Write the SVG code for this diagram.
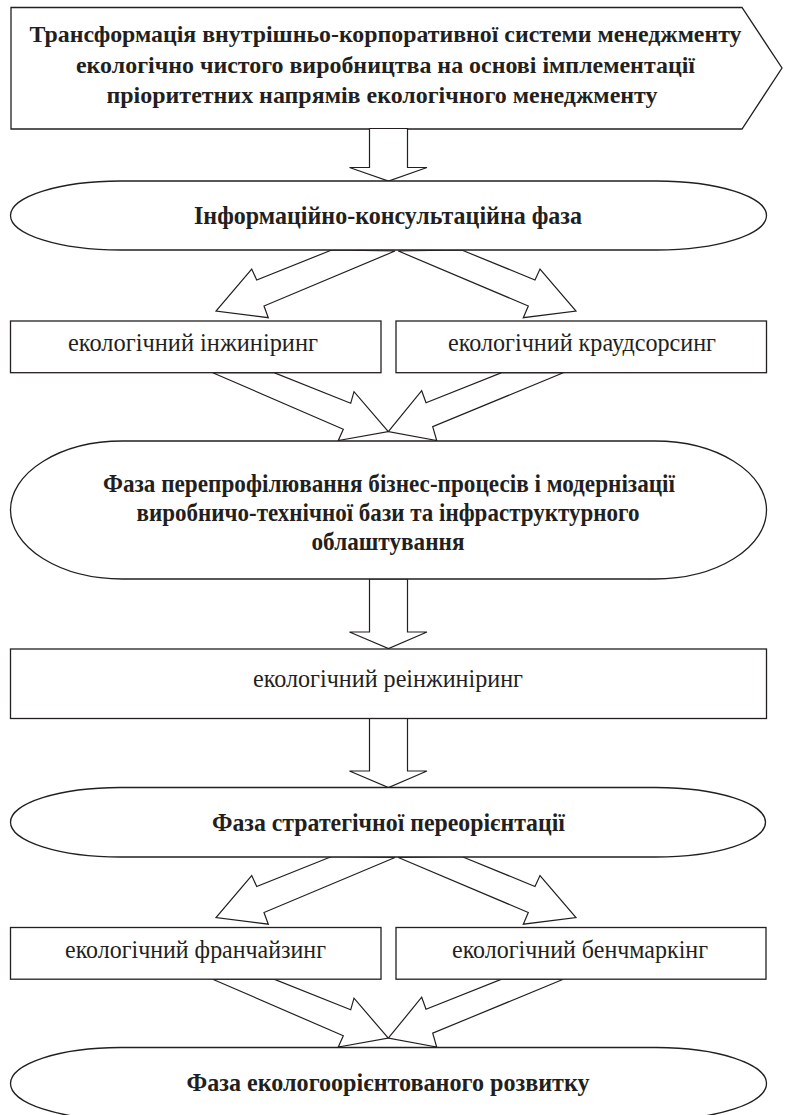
<svg xmlns="http://www.w3.org/2000/svg" width="785" height="1115" viewBox="0 0 785 1115">
<style>
.shape{fill:#fff;stroke:#231f20;stroke-width:1.3}
.arr{fill:#fff;stroke:#231f20;stroke-width:1.2;stroke-linejoin:miter}
.b{font-family:"Liberation Serif","Times New Roman",serif;font-weight:bold;font-size:25px;fill:#231f20;text-anchor:middle}
.t{font-size:24px}
.r{font-family:"Liberation Serif","Times New Roman",serif;font-size:25px;fill:#231f20;text-anchor:middle}
</style>
<rect width="785" height="1115" fill="#fff"/>
<g id="n-top">
<polygon class="shape" points="11,7.5 742,7.5 782,68 742,129 11,129"/>
<text class="b t" x="385.5" y="41.5" textLength="712" lengthAdjust="spacingAndGlyphs">Трансформація внутрішньо-корпоративної системи менеджменту</text>
<text class="b t" x="385.5" y="72.5" textLength="619" lengthAdjust="spacingAndGlyphs">екологічно чистого виробництва на основі імплементації</text>
<text class="b t" x="382" y="103" textLength="551" lengthAdjust="spacingAndGlyphs">пріоритетних напрямів екологічного менеджменту</text>
</g>
<g id="connectors">
<polygon class="arr" points="369.5,128.5 407.5,128.5 407.5,167.5 427,167.5 388.5,181 349.5,167.5 369.5,167.5"/>
<polygon class="arr" points="331.7,250 256.7,280 251.7,269 216,311 268.3,317.7 264,306 395,251"/>
<polygon class="arr" points="461.7,250 535,280 540,269 576,311 523.3,317.7 528.3,306 398.3,251"/>
<polygon class="arr" points="212.7,372.7 343.3,429.3 338.3,440.5 388.3,431.7 354,391.7 350.7,403.3 274,372.7"/>
<polygon class="arr" points="563.3,372.7 432.7,426.7 436.7,440.5 388.3,431.7 421.7,390.7 426,402.7 501.7,372.7"/>
<polygon class="arr" points="369.5,579 407.5,579 407.5,632 427,632 388.5,648.5 349.5,632 369.5,632"/>
<polygon class="arr" points="369.5,718.5 407.5,718.5 407.5,771 427,771 388.5,787.5 349.5,771 369.5,771"/>
<g transform="translate(0,606.5)">
<polygon class="arr" points="331.7,250 256.7,280 251.7,269 216,311 268.3,317.7 264,306 395,251"/>
<polygon class="arr" points="461.7,250 535,280 540,269 576,311 523.3,317.7 528.3,306 398.3,251"/>
<polygon class="arr" points="212.7,372.7 343.3,429.3 338.3,440.5 388.3,431.7 354,391.7 350.7,403.3 274,372.7"/>
<polygon class="arr" points="563.3,372.7 432.7,426.7 436.7,440.5 388.3,431.7 421.7,390.7 426,402.7 501.7,372.7"/>
</g>
</g>
<g id="n-phase1">
<rect class="shape" x="10.5" y="181" width="756" height="69" rx="110" ry="34.5"/>
<text class="b" x="388" y="224" textLength="388" lengthAdjust="spacingAndGlyphs">Інформаційно-консультаційна фаза</text>
</g>
<g id="n-engineering">
<rect class="shape" x="10.5" y="321" width="370.5" height="51.7"/>
<text class="r" x="193" y="351" textLength="250" lengthAdjust="spacingAndGlyphs">екологічний інжиніринг</text>
</g>
<g id="n-crowdsourcing">
<rect class="shape" x="396" y="321" width="370.5" height="51.7"/>
<text class="r" x="582" y="351" textLength="268" lengthAdjust="spacingAndGlyphs">екологічний краудсорсинг</text>
</g>
<g id="n-phase2">
<rect class="shape" x="10.5" y="441" width="756" height="138" rx="112" ry="69"/>
<text class="b" x="389" y="492" textLength="572" lengthAdjust="spacingAndGlyphs">Фаза перепрофілювання бізнес-процесів і модернізації</text>
<text class="b" x="388" y="521" textLength="503" lengthAdjust="spacingAndGlyphs">виробничо-технічної бази та інфраструктурного</text>
<text class="b" x="388" y="549.5" textLength="153" lengthAdjust="spacingAndGlyphs">облаштування</text>
</g>
<g id="n-reengineering">
<rect class="shape" x="10.5" y="649" width="756" height="69.5"/>
<text class="r" x="388" y="687" textLength="270" lengthAdjust="spacingAndGlyphs">екологічний реінжиніринг</text>
</g>
<g id="n-phase3">
<rect class="shape" x="10.5" y="787.5" width="755" height="69.5" rx="110" ry="34.75"/>
<text class="b" x="388.5" y="830.5" textLength="353" lengthAdjust="spacingAndGlyphs">Фаза стратегічної переорієнтації</text>
</g>
<g id="n-franchising">
<rect class="shape" x="10.5" y="927.5" width="370.5" height="51.7"/>
<text class="r" x="195.5" y="958" textLength="261" lengthAdjust="spacingAndGlyphs">екологічний франчайзинг</text>
</g>
<g id="n-benchmarking">
<rect class="shape" x="396" y="927.5" width="370" height="51.7"/>
<text class="r" x="580" y="958" textLength="256" lengthAdjust="spacingAndGlyphs">екологічний бенчмаркінг</text>
</g>
<g id="n-phase4">
<rect class="shape" x="10.5" y="1047.5" width="756" height="72" rx="110" ry="36"/>
<text class="b" x="388" y="1091" textLength="403" lengthAdjust="spacingAndGlyphs">Фаза екологоорієнтованого розвитку</text>
</g>
</svg>
